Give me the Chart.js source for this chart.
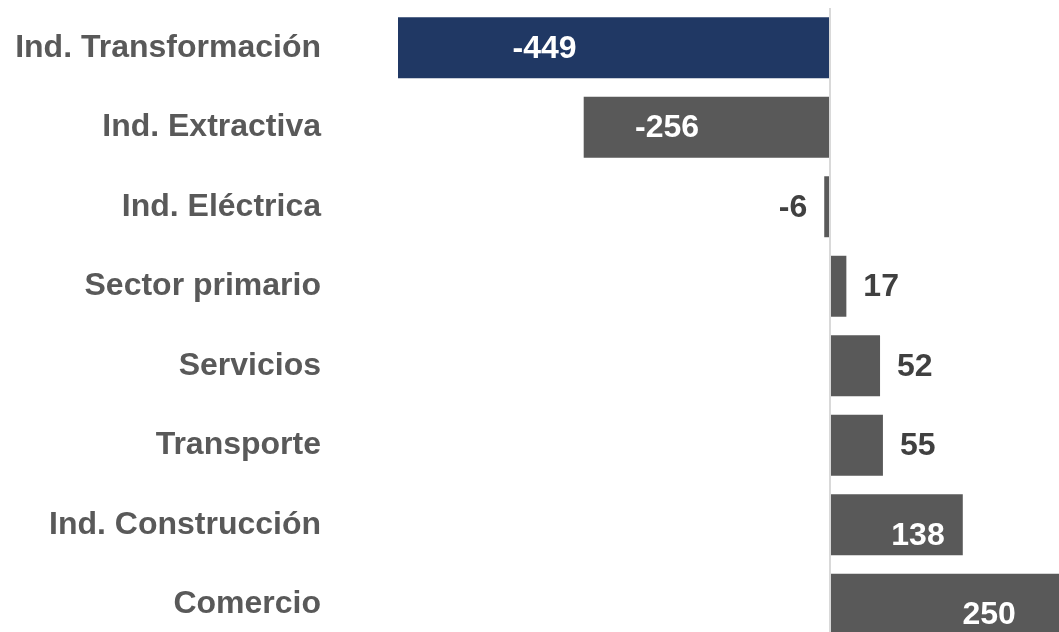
<!DOCTYPE html>
<html>
<head>
<meta charset="utf-8">
<script src="https://cdn.jsdelivr.net/npm/chart.js@4.4.1/dist/chart.umd.min.js"></script>
<style>
  html, body { margin: 0; padding: 0; background: #fff; overflow: hidden; }
  #wrap { width: 1059px; height: 632px; overflow: hidden; }
  #sectores { display: block; width: 1059px; height: 644px; }
</style>
</head>
<body>
<div id="wrap"><canvas id="sectores" width="1059" height="644"></canvas></div>
<script>
// sectores y variación
var sectores = ['Ind. Transformación', 'Ind. Extractiva', 'Ind. Eléctrica', 'Sector primario',
                'Servicios', 'Transporte', 'Ind. Construcción', 'Comercio'];
var valores = [-449, -256, -6, 17, 52, 55, 138, 250];
var colores = ['#203864', '#595959', '#595959', '#595959', '#595959', '#595959', '#595959', '#595959'];

var fuente = '"Liberation Sans", Arial, sans-serif';

// etiquetas de valor: dentro de la barra si es grande, fuera si es pequeña
var etiquetas = {
    id: 'etiquetas',
    afterDatasetsDraw: function (chart) {
        var ctx = chart.ctx;
        var meta = chart.getDatasetMeta(0);
        ctx.save();
        ctx.font = 'bold 32px ' + fuente;
        ctx.textBaseline = 'middle';
        meta.data.forEach(function (bar, i) {
            var v = valores[i];
            var p = bar.getProps(['x', 'y', 'base'], true);
            if (Math.abs(v) >= 100) {
                ctx.fillStyle = '#ffffff';
                ctx.textAlign = 'center';
                var x = p.base + (p.x - p.base) * 0.66;
                ctx.fillText(String(v), x, p.y + (v > 0 ? 11 : 1));
            } else {
                ctx.fillStyle = '#404040';
                if (v < 0) {
                    ctx.textAlign = 'right';
                    ctx.fillText(String(v), p.x - 17, p.y + 1);
                } else {
                    ctx.textAlign = 'left';
                    ctx.fillText(String(v), p.x + 17, p.y + 1);
                }
            }
        });
        ctx.restore();
    }
};

var ctx = document.getElementById('sectores').getContext('2d');
var grafica = new Chart(ctx, {
    type: 'bar',
    data: {
        labels: sectores,
        datasets: [{
            data: valores,
            backgroundColor: colores,
            borderWidth: 0,
            categoryPercentage: 1,
            barPercentage: 0.767
        }]
    },
    options: {
        indexAxis: 'y',
        responsive: false,
        maintainAspectRatio: false,
        animation: false,
        layout: { padding: { top: 8, left: 0, right: 0, bottom: 0 } },
        plugins: {
            legend: { display: false },
            tooltip: { enabled: false }
        },
        scales: {
            x: {
                min: -449,
                max: 238,
                z: 1,
                ticks: { display: false },
                border: { display: false },
                grid: {
                    drawTicks: false,
                    lineWidth: 2,
                    color: function (c) {
                        return c.tick && c.tick.value === 0 ? '#d9d9d9' : 'rgba(0,0,0,0)';
                    }
                },
                afterFit: function (scale) {
                    scale.height = 0;
                    scale.paddingLeft = 0;
                    scale.paddingRight = 0;
                }
            },
            y: {
                ticks: {
                    color: '#595959',
                    padding: 77,
                    font: { family: fuente, size: 32, weight: 'bold' }
                },
                border: { display: false },
                grid: { display: false, drawTicks: false },
                afterFit: function (scale) {
                    scale.width = 398;
                    // sin margen extra arriba y abajo por el padding de las etiquetas
                    scale.paddingTop = 0;
                    scale.paddingBottom = 0;
                }
            }
        }
    },
    plugins: [etiquetas]
});
</script>
</body>
</html>
